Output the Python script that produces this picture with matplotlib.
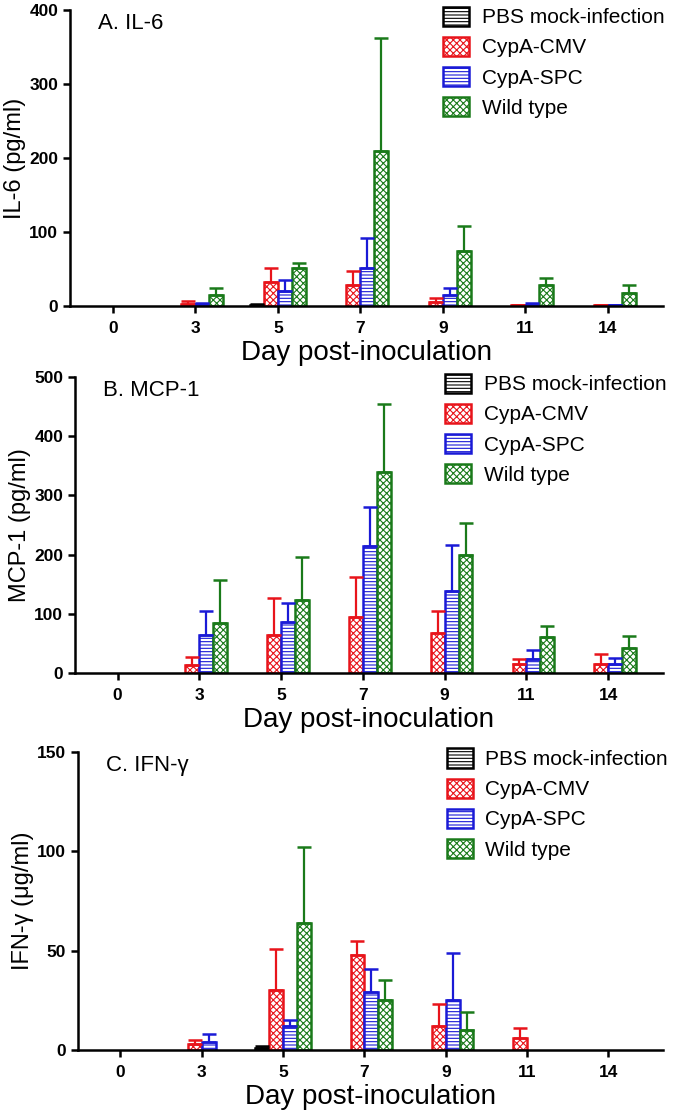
import matplotlib.pyplot as plt
from matplotlib.patches import Patch
import numpy as np

plt.rcParams['font.family'] = ['Liberation Sans', 'DejaVu Sans']
plt.rcParams['hatch.linewidth'] = 0.8

days = ["0", "3", "5", "7", "9", "11", "14"]
groups = ["PBS mock-infection", "CypA-CMV", "CypA-SPC", "Wild type"]
colors = ["black", "#e8141b", "#1a1ad6", "#1a7a1a"]
hatches = ["-----", "xxxxx", "-----", "xxxxx"]

# A. IL-6 (pg/ml)
il6_mean = {
    "PBS mock-infection": [0, 0, 1, 0, 0, 0, 0],
    "CypA-CMV": [0, 3, 33, 29, 6, 1, 1],
    "CypA-SPC": [0, 3, 20, 51, 15, 2, 1],
    "Wild type": [0, 15, 52, 209, 75, 28, 18],
}
il6_top = {
    "PBS mock-infection": [0, 0, 3, 0, 0, 0, 0],
    "CypA-CMV": [0, 7, 52, 47, 11, 2, 2],
    "CypA-SPC": [0, 4, 35, 92, 25, 4, 2],
    "Wild type": [0, 24, 58, 362, 108, 38, 29],
}

# B. MCP-1 (pg/ml)
mcp1_mean = {
    "PBS mock-infection": [0, 0, 0, 0, 0, 0, 0],
    "CypA-CMV": [0, 14, 64, 95, 68, 16, 16],
    "CypA-SPC": [0, 64, 86, 214, 139, 23, 16],
    "Wild type": [0, 85, 124, 340, 199, 61, 42],
}
mcp1_top = {
    "PBS mock-infection": [0, 0, 0, 0, 0, 0, 0],
    "CypA-CMV": [0, 27, 126, 163, 104, 23, 32],
    "CypA-SPC": [0, 105, 118, 281, 216, 39, 25],
    "Wild type": [0, 157, 196, 454, 253, 79, 63],
}

# C. IFN-gamma (ug/ml)
ifn_mean = {
    "PBS mock-infection": [0, 0, 1, 0, 0, 0, 0],
    "CypA-CMV": [0, 3, 30, 48, 12, 6, 0],
    "CypA-SPC": [0, 4, 12, 29, 25, 0, 0],
    "Wild type": [0, 0, 64, 25, 10, 0, 0],
}
ifn_top = {
    "PBS mock-infection": [0, 0, 2, 0, 0, 0, 0],
    "CypA-CMV": [0, 5, 51, 55, 23, 11, 0],
    "CypA-SPC": [0, 8, 15, 41, 49, 0, 0],
    "Wild type": [0, 0, 102, 35, 19, 0, 0],
}

panels = [
    ("A. IL-6", "IL-6 (pg/ml)", il6_mean, il6_top, 400, 100,
     [70/675, 1 - 306/1113, 593/675, 296/1113]),
    ("B. MCP-1", "MCP-1 (pg/ml)", mcp1_mean, mcp1_top, 500, 100,
     [75/675, 1 - 673/1113, 588/675, 296/1113]),
    ("C. IFN-\u03b3", "IFN-\u03b3 (\u03bcg/ml)", ifn_mean, ifn_top, 150, 50,
     [78/675, 1 - 1050/1113, 585/675, 298/1113]),
]

fig = plt.figure(figsize=(6.75, 11.13), dpi=100)
x = np.arange(len(days))
width = 0.17

# legend handles (same look in every panel)
handles = [Patch(facecolor="white", edgecolor=c, hatch=h, linewidth=1.8, label=g)
           for g, c, h in zip(groups, colors, hatches)]

for title, ylabel, means, tops, ymax, ystep, rect in panels:
    ax = fig.add_axes(rect)
    for i, g in enumerate(groups):
        m = np.array(means[g], dtype=float)
        t = np.array(tops[g], dtype=float)
        pos = x + (i - 1.5) * width
        keep = m > 0
        ax.bar(pos[keep], m[keep], width, color="white", edgecolor=colors[i],
               hatch=hatches[i], linewidth=1.8, zorder=2)
        up = np.clip(t - m, 0, None)
        has = up > 0
        ax.errorbar(pos[has], m[has], yerr=[np.zeros(has.sum()), up[has]],
                    fmt="none", ecolor=colors[i], elinewidth=1.6,
                    capsize=5, capthick=1.8, zorder=3)
    ax.set_xlim(-0.52, 6.67)
    ax.set_ylim(0, ymax)
    ax.set_yticks(np.arange(0, ymax + 1, ystep))
    ax.set_xticks(x)
    ax.set_xticklabels(days)
    for s in ["top", "right"]:
        ax.spines[s].set_visible(False)
    for s in ["left", "bottom"]:
        ax.spines[s].set_linewidth(1.8)
        ax.spines[s].set_zorder(4)
    ax.tick_params(axis="both", direction="out", length=5, width=1.8,
                   labelsize=12.5)
    for lab in ax.get_xticklabels() + ax.get_yticklabels():
        lab.set_fontweight("bold")
    ax.tick_params(axis="x", pad=6)
    ax.set_xlabel("Day post-inoculation", fontsize=20, labelpad=3)
    ax.set_ylabel(ylabel, fontsize=17, labelpad=2)
    ax.text(0.048, 0.99, title, transform=ax.transAxes, fontsize=16,
            va="top", ha="left")
    leg = ax.legend(handles=handles, loc="upper left",
                    bbox_to_anchor=(0.598, 1.075), frameon=False, fontsize=15,
                    handlelength=1.25, handleheight=1.05, labelspacing=0.45,
                    handletextpad=0.6)
    leg.set_clip_on(False)

fig.savefig("out.png", dpi=100)
